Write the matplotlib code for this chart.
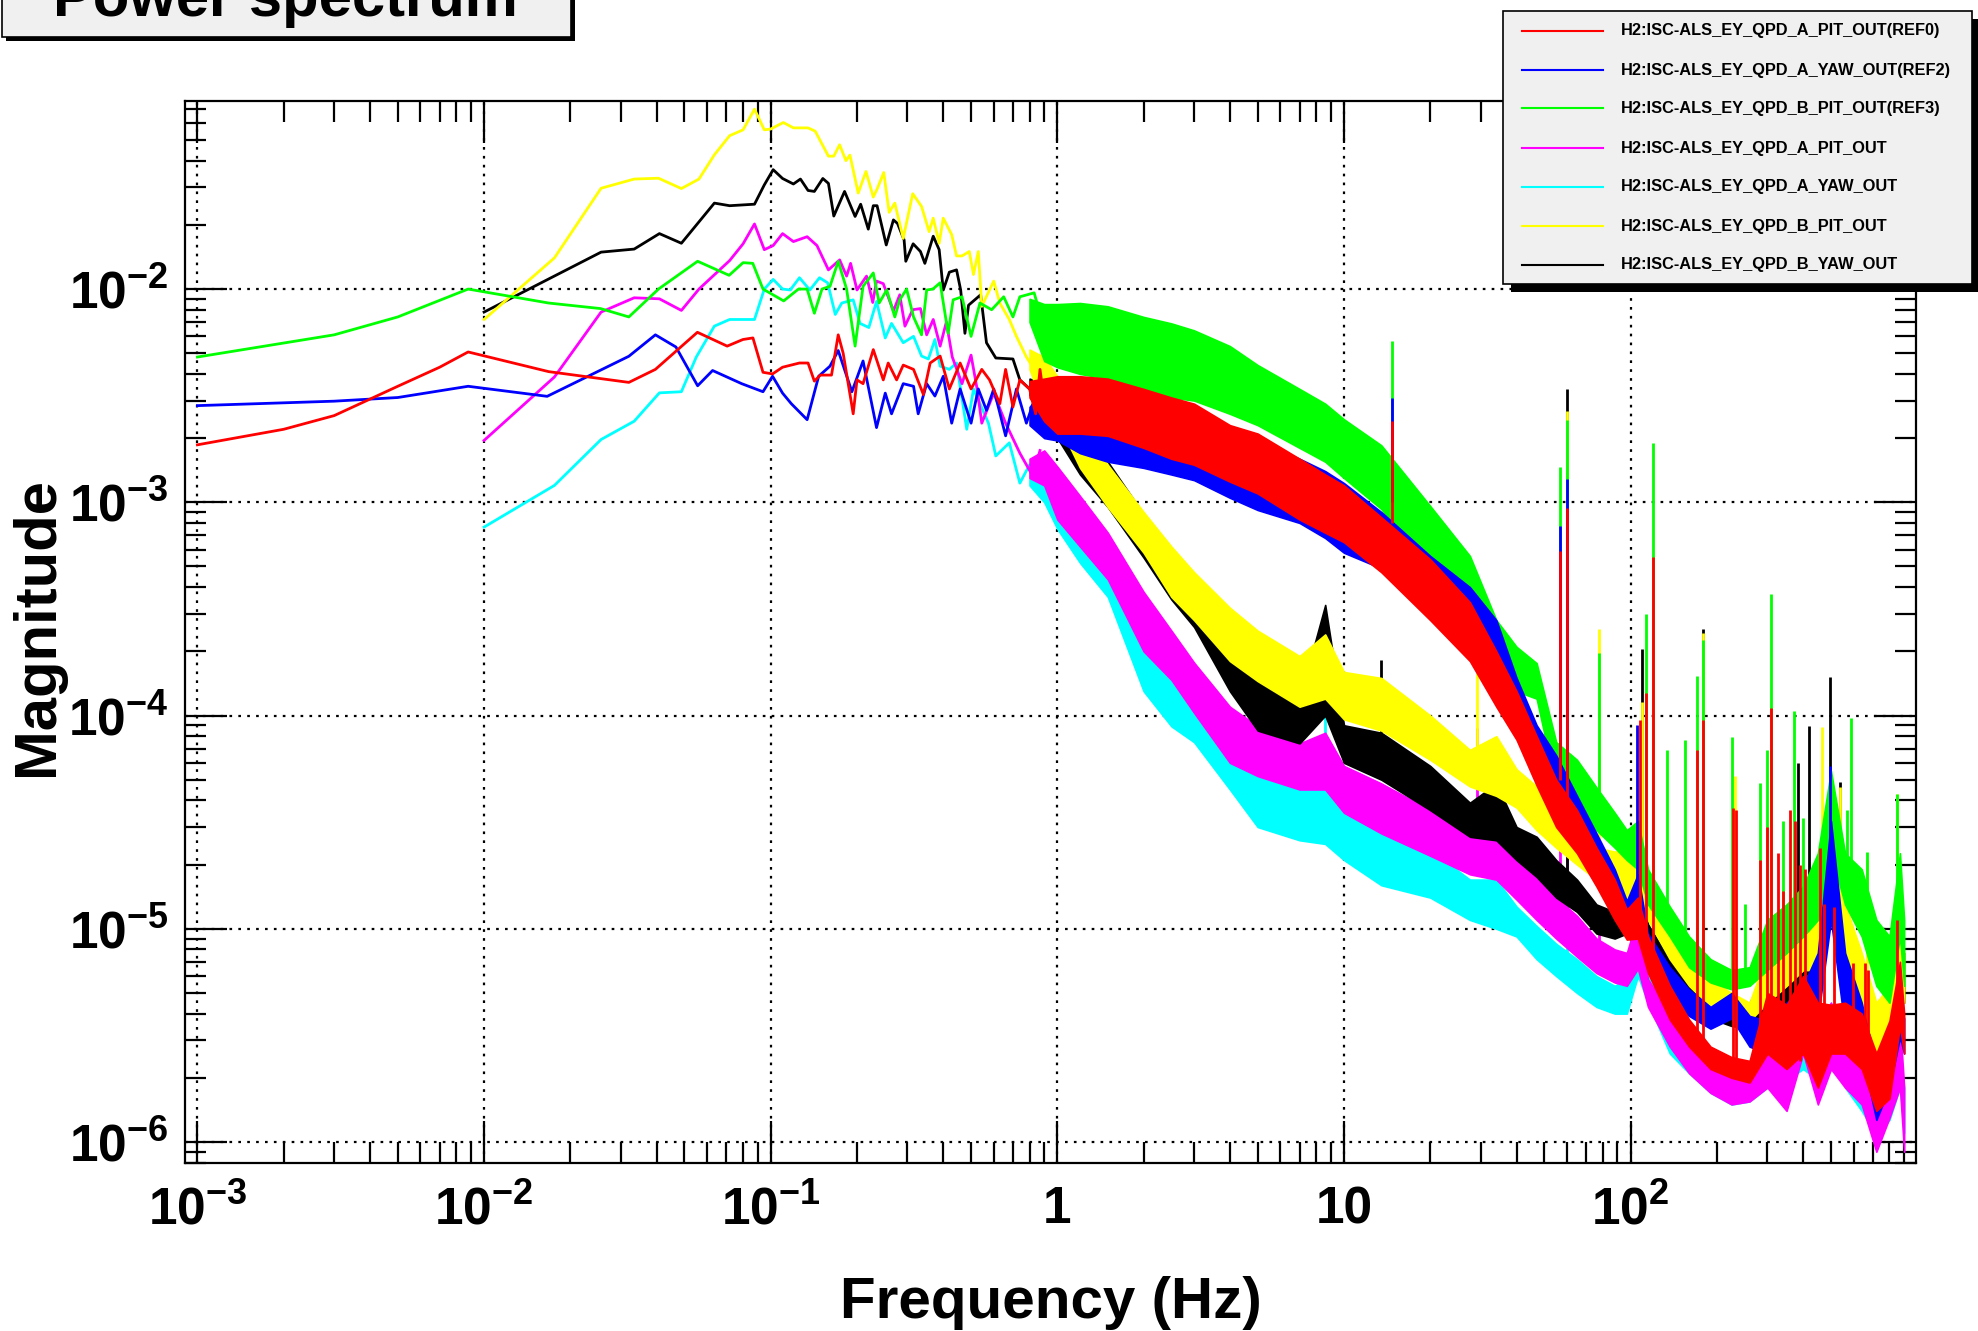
import numpy as np
import matplotlib
matplotlib.use("Agg")
import matplotlib.pyplot as plt
from matplotlib.patches import Rectangle
from matplotlib.lines import Line2D
from matplotlib.ticker import LogLocator, FixedLocator, NullFormatter

plt.rcParams['font.family'] = ['Liberation Sans', 'DejaVu Sans']
plt.rcParams['font.weight'] = 'bold'
plt.rcParams['mathtext.fontset'] = 'custom'
plt.rcParams['mathtext.rm'] = 'Liberation Sans:bold'
plt.rcParams['mathtext.it'] = 'Liberation Sans:bold'
plt.rcParams['mathtext.bf'] = 'Liberation Sans:bold'

labels = ['H2:ISC-ALS_EY_QPD_A_PIT_OUT(REF0)', 'H2:ISC-ALS_EY_QPD_A_YAW_OUT(REF2)',
          'H2:ISC-ALS_EY_QPD_B_PIT_OUT(REF3)', 'H2:ISC-ALS_EY_QPD_A_PIT_OUT',
          'H2:ISC-ALS_EY_QPD_A_YAW_OUT', 'H2:ISC-ALS_EY_QPD_B_PIT_OUT',
          'H2:ISC-ALS_EY_QPD_B_YAW_OUT']
colors = ['#ff0000', '#0000ff', '#00ff00', '#ff00ff', '#00ffff', '#ffff00', '#000000']

# ---- low frequency part (single visible trace) ----
red_f = [0.001, 0.002, 0.003, 0.005, 0.007, 0.0088, 0.0168, 0.032, 0.0396, 0.0555, 0.0705, 0.080, 0.0867,
         0.094, 0.1015, 0.11, 0.126, 0.135, 0.142, 0.149, 0.163, 0.172, 0.179, 0.194, 0.2, 0.21, 0.228,
         0.247, 0.257, 0.275, 0.29, 0.315, 0.341, 0.36, 0.39, 0.42, 0.458, 0.5, 0.545, 0.58, 0.63, 0.66,
         0.7, 0.74, 0.8, 0.84, 0.87, 0.9]
red_v = [1.86e-3, 2.2e-3, 2.55e-3, 3.5e-3, 4.3e-3, 5.07e-3, 4.1e-3, 3.65e-3, 4.2e-3, 6.27e-3, 5.4e-3, 5.8e-3, 5.9e-3,
         4.07e-3, 4.0e-3, 4.3e-3, 4.5e-3, 4.5e-3, 3.7e-3, 3.95e-3, 3.95e-3, 6.1e-3, 5.0e-3, 2.6e-3, 3.75e-3, 3.6e-3, 5.2e-3,
         3.75e-3, 4.5e-3, 3.75e-3, 4.4e-3, 4.2e-3, 3.2e-3, 4.5e-3, 4.85e-3, 3.4e-3, 4.5e-3, 3.4e-3, 4.2e-3, 3.75e-3, 2.9e-3, 4.2e-3,
         2.8e-3, 3.75e-3, 3.4e-3, 2.6e-3, 4.2e-3, 3.0e-3]

blue_f = [0.001, 0.003, 0.005, 0.0088, 0.0166, 0.032, 0.0396, 0.0467, 0.0556, 0.0627, 0.0792, 0.094, 0.1015,
          0.11, 0.118, 0.134, 0.147, 0.161, 0.172, 0.192, 0.21, 0.234, 0.251, 0.264, 0.29, 0.315, 0.327,
          0.35, 0.374, 0.4, 0.428, 0.458, 0.5, 0.53, 0.566, 0.6, 0.66, 0.72, 0.78, 0.84, 0.9]
blue_v = [2.84e-3, 2.98e-3, 3.1e-3, 3.5e-3, 3.14e-3, 4.84e-3, 6.1e-3, 5.35e-3, 3.52e-3, 4.15e-3, 3.6e-3, 3.3e-3, 3.9e-3,
          3.25e-3, 2.9e-3, 2.44e-3, 3.9e-3, 4.35e-3, 5.15e-3, 3.3e-3, 4.6e-3, 2.24e-3, 3.25e-3, 2.6e-3, 3.6e-3, 3.5e-3, 2.6e-3,
          3.6e-3, 3.15e-3, 3.9e-3, 2.35e-3, 3.4e-3, 2.35e-3, 3.4e-3, 2.7e-3, 3.4e-3, 2.05e-3, 3.4e-3, 2.35e-3, 3.15e-3, 2.6e-3]

green_f = [0.001, 0.003, 0.005, 0.0088, 0.0168, 0.0255, 0.032, 0.0406, 0.0556, 0.0716, 0.0801, 0.0866, 0.094,
           0.111, 0.125, 0.134, 0.142, 0.151, 0.161, 0.172, 0.184, 0.197, 0.21, 0.228, 0.239, 0.254, 0.271,
           0.282, 0.298, 0.315, 0.336, 0.35, 0.368, 0.39, 0.416, 0.433, 0.465, 0.5, 0.537, 0.59, 0.65, 0.7,
           0.74, 0.83, 0.89]
green_v = [4.8e-3, 6.1e-3, 7.4e-3, 1.0e-2, 8.6e-3, 8.1e-3, 7.4e-3, 1.0e-2, 1.35e-2, 1.16e-2, 1.33e-2, 1.32e-2, 1.0e-2,
           8.8e-3, 1.0e-2, 1.0e-2, 7.7e-3, 1.0e-2, 1.03e-2, 1.35e-2, 1.0e-2, 5.4e-3, 1.03e-2, 1.19e-2, 8.6e-3, 9.9e-3, 7.4e-3,
           8.9e-3, 1.0e-2, 7.4e-3, 6.1e-3, 9.9e-3, 1.0e-2, 1.07e-2, 6.2e-3, 8.9e-3, 9.2e-3, 6.0e-3, 8.6e-3, 8.0e-3, 9.2e-3, 7.4e-3,
           9.2e-3, 9.6e-3, 6.9e-3]

magenta_f = [0.01, 0.0176, 0.0256, 0.0334, 0.0409, 0.0488, 0.0562, 0.0719, 0.0801, 0.0878, 0.095, 0.102, 0.11,
             0.12, 0.134, 0.145, 0.159, 0.174, 0.184, 0.19, 0.2, 0.216, 0.227, 0.234, 0.247, 0.268, 0.282,
             0.294, 0.313, 0.333, 0.35, 0.369, 0.39, 0.41, 0.43, 0.465, 0.5, 0.525, 0.545, 0.6, 0.66, 0.74,
             0.82, 0.87]
magenta_v = [1.95e-3, 3.87e-3, 7.8e-3, 9.1e-3, 9.0e-3, 7.94e-3, 1.0e-2, 1.36e-2, 1.63e-2, 2.02e-2, 1.53e-2, 1.6e-2, 1.82e-2,
             1.67e-2, 1.76e-2, 1.6e-2, 1.23e-2, 1.37e-2, 1.15e-2, 1.32e-2, 9.9e-3, 1.15e-2, 8.65e-3, 1.09e-2, 1.06e-2, 7.9e-3, 9.4e-3,
             6.7e-3, 8.0e-3, 8.1e-3, 6.1e-3, 7.2e-3, 5.4e-3, 7.0e-3, 4.8e-3, 3.6e-3, 4.9e-3, 3.4e-3, 2.35e-3, 3.25e-3, 2.35e-3, 1.7e-3,
             1.33e-3, 1.75e-3]

cyan_f = [0.01, 0.0176, 0.0256, 0.0334, 0.0409, 0.0488, 0.055, 0.0636, 0.0719, 0.0878, 0.095, 0.102, 0.11,
          0.117, 0.126, 0.137, 0.148, 0.158, 0.168, 0.177, 0.194, 0.205, 0.22, 0.234, 0.251, 0.264, 0.29,
          0.315, 0.336, 0.355, 0.374, 0.39, 0.42, 0.445, 0.483, 0.51, 0.575, 0.61, 0.68, 0.74, 0.8, 0.87]
cyan_v = [7.65e-4, 1.2e-3, 1.97e-3, 2.4e-3, 3.26e-3, 3.3e-3, 4.8e-3, 6.7e-3, 7.2e-3, 7.2e-3, 1.0e-2, 1.11e-2, 1.0e-2,
          9.9e-3, 1.13e-2, 9.9e-3, 1.13e-2, 1.07e-2, 7.6e-3, 8.6e-3, 8.9e-3, 6.9e-3, 6.6e-3, 8.75e-3, 5.9e-3, 6.9e-3, 5.6e-3,
          6.0e-3, 4.85e-3, 4.7e-3, 5.8e-3, 4.35e-3, 4.2e-3, 4.5e-3, 2.2e-3, 3.4e-3, 2.35e-3, 1.65e-3, 1.9e-3, 1.23e-3, 1.5e-3, 1.2e-3]

yellow_f = [0.01, 0.0176, 0.0256, 0.0334, 0.0406, 0.0488, 0.0562, 0.0636, 0.0719, 0.0801, 0.0878, 0.095, 0.1,
            0.1107, 0.12, 0.135, 0.143, 0.159, 0.166, 0.174, 0.183, 0.189, 0.202, 0.215, 0.228, 0.235, 0.248,
            0.259, 0.271, 0.29, 0.313, 0.336, 0.357, 0.369, 0.387, 0.4, 0.428, 0.445, 0.465, 0.493, 0.51, 0.53,
            0.545, 0.6, 0.63, 0.68, 0.72, 0.78, 0.87]
yellow_v = [7.2e-3, 1.4e-2, 2.97e-2, 3.28e-2, 3.31e-2, 2.96e-2, 3.28e-2, 4.26e-2, 5.24e-2, 5.58e-2, 6.98e-2, 5.58e-2, 5.63e-2,
            6.04e-2, 5.7e-2, 5.7e-2, 5.5e-2, 4.2e-2, 4.2e-2, 4.75e-2, 4.0e-2, 4.25e-2, 2.82e-2, 3.56e-2, 2.7e-2, 2.94e-2, 3.52e-2,
            2.29e-2, 2.53e-2, 1.73e-2, 2.8e-2, 2.44e-2, 1.86e-2, 2.15e-2, 1.64e-2, 2.15e-2, 1.8e-2, 1.43e-2, 1.43e-2, 1.5e-2, 1.17e-2, 1.5e-2,
            8.3e-3, 1.09e-2, 8.6e-3, 7.2e-3, 6.0e-3, 4.8e-3, 3.8e-3]

black_f = [0.01, 0.0256, 0.0334, 0.0409, 0.0488, 0.0636, 0.0719, 0.0878, 0.095, 0.102, 0.11, 0.12, 0.127,
           0.135, 0.142, 0.152, 0.159, 0.166, 0.181, 0.197, 0.206, 0.219, 0.228, 0.235, 0.253, 0.268, 0.277,
           0.292, 0.296, 0.314, 0.333, 0.345, 0.369, 0.387, 0.4, 0.42, 0.445, 0.46, 0.476, 0.49, 0.54, 0.566,
           0.61, 0.7, 0.74, 0.8, 0.87]
black_v = [7.8e-3, 1.49e-2, 1.54e-2, 1.82e-2, 1.64e-2, 2.53e-2, 2.46e-2, 2.5e-2, 3.08e-2, 3.63e-2, 3.3e-2, 3.11e-2, 3.28e-2,
           2.9e-2, 2.87e-2, 3.3e-2, 3.13e-2, 2.2e-2, 2.87e-2, 2.19e-2, 2.5e-2, 1.91e-2, 2.46e-2, 2.46e-2, 1.61e-2, 2.11e-2, 2.03e-2,
           1.7e-2, 1.35e-2, 1.63e-2, 1.5e-2, 1.32e-2, 1.77e-2, 1.53e-2, 9.9e-3, 1.2e-2, 1.23e-2, 9.9e-3, 6.2e-3, 8.4e-3, 9.4e-3, 5.6e-3,
           4.75e-3, 4.7e-3, 3.75e-3, 3.4e-3, 3.9e-3]

# ---- dense part: upper / lower edge of the noise band ----
band_f = [0.8, 0.9, 1.0, 1.2, 1.5, 2, 2.5, 3, 4, 5, 7, 8.6, 10, 13.5, 20, 27.5, 34, 40, 47, 55, 65,
          76, 88, 97, 106, 115, 137, 160, 190, 225, 260, 300, 350, 400, 450, 500, 560, 640, 720, 800, 870, 900]

red_hi = [3.7e-3,
          3.8e-3, 3.9e-3, 3.9e-3, 3.8e-3, 3.4e-3, 3.1e-3, 2.9e-3, 2.3e-3, 2.1e-3, 1.6e-3, 1.35e-3, 1.2e-3, 8.5e-4, 5.4e-4,
          3.4e-4, 2.0e-4, 1.3e-4, 8.0e-5, 5.0e-5, 3.6e-5, 2.4e-5, 1.7e-5, 1.23e-5, 1.4e-5, 9.2e-6, 5.4e-6, 3.75e-6, 2.8e-6,
          2.5e-6, 2.4e-6, 5.0e-6, 4.4e-6, 6.0e-6, 4.5e-6, 4.4e-6, 4.5e-6, 4.0e-6, 2.6e-6, 3.7e-6, 7.0e-6, 4.0e-6]
red_lo = [3.1e-3,
          2.4e-3, 2.1e-3, 2.1e-3, 2.05e-3, 1.8e-3, 1.6e-3, 1.5e-3, 1.25e-3, 1.1e-3, 8.3e-4, 7.2e-4, 6.5e-4, 4.7e-4, 2.8e-4,
          1.8e-4, 1.1e-4, 7.7e-5, 4.7e-5, 3.0e-5, 2.26e-5, 1.58e-5, 1.1e-5, 8.9e-6, 9.0e-6, 6.2e-6, 3.75e-6, 2.8e-6, 2.2e-6,
          2.0e-6, 1.9e-6, 2.6e-6, 2.2e-6, 2.6e-6, 1.8e-6, 2.6e-6, 2.6e-6, 2.2e-6, 1.4e-6, 1.6e-6, 3.5e-6, 2.6e-6]

blue_hi = [2.8e-3,
           3.4e-3, 3.1e-3, 3.0e-3, 2.9e-3, 2.8e-3, 2.6e-3, 2.45e-3, 2.15e-3, 1.95e-3, 1.6e-3, 1.4e-3, 1.23e-3, 9.0e-4, 5.6e-4,
           4.0e-4, 2.8e-4, 1.5e-4, 9.0e-5, 6.5e-5, 4.2e-5, 2.8e-5, 1.9e-5, 1.35e-5, 1.8e-5, 9.5e-6, 6.6e-6, 5.2e-6, 4.3e-6,
           5.0e-6, 3.9e-6, 3.7e-6, 4.5e-6, 5.4e-6, 7.7e-6, 3.2e-5, 7.7e-6, 4.5e-6, 2.2e-6, 3.2e-6, 4.5e-6, 3.8e-6]
blue_lo = [2.3e-3,
           2.0e-3, 1.95e-3, 1.7e-3, 1.55e-3, 1.45e-3, 1.35e-3, 1.27e-3, 1.05e-3, 9.2e-4, 8.0e-4, 6.8e-4, 5.8e-4, 4.9e-4, 3.4e-4,
           2.4e-4, 1.6e-4, 9.0e-5, 5.6e-5, 3.8e-5, 2.6e-5, 1.8e-5, 1.25e-5, 1.05e-5, 1.2e-5, 7.2e-6, 4.6e-6, 3.9e-6, 3.4e-6,
           3.8e-6, 2.8e-6, 2.6e-6, 2.6e-6, 3.1e-6, 3.8e-6, 1.1e-5, 3.4e-6, 2.6e-6, 1.27e-6, 1.8e-6, 3.1e-6, 2.6e-6]

green_hi = [9.0e-3,
            8.5e-3, 8.5e-3, 8.6e-3, 8.3e-3, 7.4e-3, 6.9e-3, 6.4e-3, 5.4e-3, 4.4e-3, 3.4e-3, 2.9e-3, 2.45e-3, 1.85e-3, 9.6e-4,
            5.6e-4, 2.8e-4, 2.1e-4, 1.76e-4, 7.5e-5, 6.2e-5, 4.6e-5, 3.5e-5, 2.9e-5, 3.2e-5, 1.9e-5, 1.27e-5, 9.2e-6, 7.2e-6,
            6.4e-6, 6.6e-6, 1.1e-5, 1.3e-5, 1.58e-5, 2.26e-5, 5.5e-5, 2.26e-5, 1.9e-5, 1.1e-5, 9.2e-6, 2.26e-5, 1.1e-5]
green_lo = [7.0e-3,
            4.6e-3, 4.3e-3, 4.0e-3, 3.8e-3, 3.3e-3, 3.1e-3, 3.0e-3, 2.6e-3, 2.3e-3, 1.8e-3, 1.55e-3, 1.3e-3, 9.3e-4, 4.7e-4,
            3.0e-4, 1.7e-4, 1.3e-4, 1.2e-4, 4.6e-5, 3.9e-5, 2.9e-5, 2.4e-5, 2.1e-5, 1.9e-5, 1.3e-5, 9.2e-6, 6.6e-6, 5.6e-6,
            5.2e-6, 5.4e-6, 6.4e-6, 7.7e-6, 9.2e-6, 1.1e-5, 2.26e-5, 1.3e-5, 9.2e-6, 5.4e-6, 4.5e-6, 9.2e-6, 5.4e-6]

magenta_hi = [1.6e-3,
              1.75e-3, 1.47e-3, 1.07e-3, 7.2e-4, 3.8e-4, 2.5e-4, 1.77e-4, 1.1e-4, 8.9e-5, 7.4e-5, 8.3e-5, 5.8e-5, 4.8e-5, 3.6e-5,
              2.7e-5, 3.2e-5, 2.1e-5, 1.75e-5, 1.4e-5, 1.15e-5, 9.0e-6, 8.0e-6, 7.7e-6, 1.15e-5, 5.8e-6, 4.0e-6, 3.1e-6, 2.35e-6,
              2.1e-6, 2.2e-6, 3.1e-6, 3.1e-6, 3.9e-6, 3.7e-6, 4.5e-6, 3.1e-6, 2.6e-6, 1.5e-6, 2.2e-6, 3.7e-6, 1.8e-6]
magenta_lo = [1.3e-3,
              1.2e-3, 8.3e-4, 6.2e-4, 4.35e-4, 2.0e-4, 1.47e-4, 1.03e-4, 6.0e-5, 5.2e-5, 4.5e-5, 4.5e-5, 3.5e-5, 2.8e-5, 2.2e-5,
              1.8e-5, 1.7e-5, 1.37e-5, 1.1e-5, 9.0e-6, 7.4e-6, 6.2e-6, 5.6e-6, 5.4e-6, 6.5e-6, 4.3e-6, 2.8e-6, 2.1e-6, 1.7e-6,
              1.5e-6, 1.55e-6, 1.8e-6, 1.4e-6, 2.6e-6, 1.5e-6, 2.2e-6, 1.8e-6, 1.5e-6, 9.0e-7, 1.3e-6, 1.8e-6, 9.0e-7]

cyan_hi = [1.5e-3,
           1.55e-3, 1.3e-3, 8.9e-4, 6.2e-4, 2.6e-4, 1.77e-4, 1.2e-4, 7.0e-5, 5.4e-5, 4.5e-5, 4.5e-5, 3.6e-5, 3.0e-5, 2.35e-5,
           1.7e-5, 1.7e-5, 1.27e-5, 1.03e-5, 8.5e-6, 7.2e-6, 6.0e-6, 5.4e-6, 5.8e-6, 1.2e-5, 6.0e-6, 3.75e-6, 2.8e-6, 2.2e-6,
           2.0e-6, 2.0e-6, 2.6e-6, 2.8e-6, 3.1e-6, 2.8e-6, 4.5e-6, 2.6e-6, 2.0e-6, 1.5e-6, 1.7e-6, 2.6e-6, 1.8e-6]
cyan_lo = [1.2e-3,
           1.0e-3, 7.5e-4, 5.2e-4, 3.6e-4, 1.3e-4, 8.9e-5, 7.5e-5, 4.5e-5, 3.0e-5, 2.6e-5, 2.5e-5, 2.1e-5, 1.6e-5, 1.4e-5,
           1.1e-5, 1.0e-5, 9.2e-6, 7.2e-6, 6.0e-6, 5.0e-6, 4.3e-6, 4.0e-6, 4.0e-6, 6.0e-6, 4.5e-6, 2.6e-6, 2.1e-6, 1.7e-6,
           1.5e-6, 1.55e-6, 1.8e-6, 1.95e-6, 2.2e-6, 1.95e-6, 2.6e-6, 1.8e-6, 1.4e-6, 1.07e-6, 1.27e-6, 1.8e-6, 1.1e-6]

yellow_hi = [5.2e-3,
             4.8e-3, 3.9e-3, 2.45e-3, 1.5e-3, 9.0e-4, 6.2e-4, 4.7e-4, 3.2e-4, 2.5e-4, 1.9e-4, 2.4e-4, 1.6e-4, 1.5e-4, 1.0e-4,
             6.9e-5, 8.0e-5, 5.6e-5, 4.65e-5, 3.7e-5, 3.0e-5, 2.4e-5, 2.3e-5, 2.3e-5, 2.8e-5, 1.58e-5, 1.0e-5, 7.7e-6, 5.8e-6,
             5.0e-6, 4.5e-6, 7.7e-6, 9.2e-6, 1.1e-5, 1.3e-5, 2.26e-5, 1.3e-5, 7.7e-6, 4.5e-6, 5.4e-6, 1.1e-5, 7.7e-6]
yellow_lo = [4.2e-3,
             2.7e-3, 2.4e-3, 1.45e-3, 9.5e-4, 5.8e-4, 3.6e-4, 2.8e-4, 1.8e-4, 1.45e-4, 1.1e-4, 1.2e-4, 9.6e-5, 8.5e-5, 6.2e-5,
             4.65e-5, 4.2e-5, 3.7e-5, 2.9e-5, 2.4e-5, 2.0e-5, 1.7e-5, 1.5e-5, 1.4e-5, 1.6e-5, 1.1e-5, 7.2e-6, 5.4e-6, 4.3e-6,
             4.0e-6, 3.7e-6, 4.5e-6, 5.4e-6, 6.4e-6, 6.4e-6, 1.1e-5, 6.4e-6, 4.5e-6, 2.6e-6, 3.1e-6, 6.4e-6, 4.5e-6]

black_hi = [3.8e-3,
            3.6e-3, 3.3e-3, 2.3e-3, 1.55e-3, 8.8e-4, 6.0e-4, 4.5e-4, 2.3e-4, 1.5e-4, 1.2e-4, 3.3e-4, 9.0e-5, 8.3e-5, 5.8e-5,
            3.9e-5, 4.8e-5, 3.0e-5, 2.7e-5, 2.1e-5, 1.7e-5, 1.3e-5, 1.2e-5, 1.27e-5, 1.6e-5, 1.05e-5, 7.1e-6, 5.8e-6, 5.0e-6,
            4.5e-6, 4.5e-6, 6.6e-6, 7.7e-6, 9.2e-6, 1.58e-5, 3.2e-5, 1.1e-5, 5.4e-6, 3.1e-6, 4.5e-6, 7.7e-6, 7.7e-6]
black_lo = [3.2e-3,
            2.1e-3, 2.0e-3, 1.35e-3, 9.5e-4, 5.5e-4, 3.5e-4, 2.6e-4, 1.3e-4, 8.5e-5, 7.4e-5, 1.0e-4, 6.0e-5, 5.0e-5, 3.6e-5,
            2.7e-5, 2.6e-5, 2.1e-5, 1.75e-5, 1.4e-5, 1.2e-5, 9.5e-6, 9.0e-6, 9.5e-6, 1.0e-5, 7.2e-6, 5.0e-6, 4.0e-6, 3.8e-6,
            3.5e-6, 3.4e-6, 3.8e-6, 4.5e-6, 5.4e-6, 9.2e-6, 1.58e-5, 5.4e-6, 3.1e-6, 1.8e-6, 2.6e-6, 4.5e-6, 4.5e-6]

# ---- narrow lines: frequency, bottom, top ----
red_spk_f = [14.7, 56.7, 60, 108, 113, 119.3, 170, 179, 228, 234, 282, 298, 309, 328, 341, 360, 374, 390, 406,
             457, 473, 511, 598, 656, 673, 847]
red_spk_lo = [8e-4, 5e-5, 4e-5, 1e-5, 8e-6, 7e-6, 3e-6, 3e-6, 2.2e-6, 2.2e-6, 2.4e-6, 2.6e-6, 3e-6, 2.6e-6, 2.4e-6,
              3e-6, 2.6e-6, 2.4e-6, 2.6e-6, 3e-6, 2.6e-6, 2.8e-6, 2.6e-6, 2.4e-6, 2.2e-6, 4e-6]
red_spk_hi = [2.4e-3, 5.9e-4, 9.4e-4, 9.5e-5, 1.27e-4, 5.55e-4, 6.9e-5, 9.5e-5, 3.7e-5, 3.6e-5, 2.1e-5, 3.0e-5, 1.09e-4,
              2.26e-5, 1.5e-5, 3.6e-5, 3.2e-5, 2.0e-5, 1.9e-5, 2.4e-5, 1.3e-5, 1.27e-5, 6.9e-6, 6.9e-6, 6.4e-6, 1.1e-5]

blue_spk_f = [14.7, 56.7, 60, 105, 495]
blue_spk_lo = [1e-3, 6e-5, 5e-5, 1.3e-5, 1.5e-5]
blue_spk_hi = [3.1e-3, 7.7e-4, 1.28e-3, 9e-5, 5.8e-5]

green_spk_f = [14.7, 56.7, 60, 77.7, 113, 119.3, 134, 155, 170, 179, 225, 250, 282, 298, 308, 341, 371, 400,
               567, 588, 667, 850]
green_spk_lo = [1.5e-3, 1e-4, 8e-5, 3.5e-5, 1.6e-5, 1.5e-5, 1.1e-5, 9e-6, 8e-6, 7e-6, 6e-6, 6e-6, 6e-6, 7e-6, 7e-6,
                8e-6, 9e-6, 1e-5, 1.4e-5, 1.5e-5, 1.2e-5, 1e-5]
green_spk_hi = [5.7e-3, 1.47e-3, 2.43e-3, 1.96e-4, 2.98e-4, 1.9e-3, 6.9e-5, 7.7e-5, 1.53e-4, 2.26e-4, 7.9e-5, 1.3e-5,
                4.8e-5, 6.9e-5, 3.7e-4, 3.2e-5, 1.05e-4, 3.3e-5, 3.6e-5, 9.7e-5, 2.3e-5, 4.3e-5]

magenta_spk_f = [29.2, 56.7, 60, 77.7]
magenta_spk_lo = [2e-5, 1.2e-5, 1.2e-5, 7e-6]
magenta_spk_hi = [8.7e-5, 1.1e-4, 1.0e-4, 1.2e-5]

cyan_spk_f = [8.6, 60]
cyan_spk_lo = [3e-5, 6e-6]
cyan_spk_hi = [1.0e-4, 3e-5]

yellow_spk_f = [29.2, 60, 77.7, 110, 179, 231, 464, 537, 667, 850]
yellow_spk_lo = [5e-5, 3e-5, 2e-5, 1.2e-5, 5e-6, 4.5e-6, 8e-6, 8e-6, 6e-6, 7e-6]
yellow_spk_hi = [1.6e-4, 2.69e-3, 2.54e-4, 1.16e-4, 2.43e-4, 5.2e-5, 8.8e-5, 4.6e-5, 2.1e-5, 4.3e-5]

black_spk_f = [13.5, 60, 110, 179, 384, 420, 495, 537]
black_spk_lo = [6e-5, 1.5e-5, 9e-6, 4e-6, 5e-6, 6e-6, 1.6e-5, 8e-6]
black_spk_hi = [1.83e-4, 3.39e-3, 2.05e-4, 2.54e-4, 6.0e-5, 8.9e-5, 1.51e-4, 4.9e-5]

traces = [
    (red_f, red_v, red_hi, red_lo, red_spk_f, red_spk_lo, red_spk_hi),
    (blue_f, blue_v, blue_hi, blue_lo, blue_spk_f, blue_spk_lo, blue_spk_hi),
    (green_f, green_v, green_hi, green_lo, green_spk_f, green_spk_lo, green_spk_hi),
    (magenta_f, magenta_v, magenta_hi, magenta_lo, magenta_spk_f, magenta_spk_lo, magenta_spk_hi),
    (cyan_f, cyan_v, cyan_hi, cyan_lo, cyan_spk_f, cyan_spk_lo, cyan_spk_hi),
    (yellow_f, yellow_v, yellow_hi, yellow_lo, yellow_spk_f, yellow_spk_lo, yellow_spk_hi),
    (black_f, black_v, black_hi, black_lo, black_spk_f, black_spk_lo, black_spk_hi),
]
zorders = [8, 7, 6, 3, 2, 5, 4]

W, H = 1978, 1331
fig = plt.figure(figsize=(W / 100, H / 100), dpi=100)
ax = fig.add_axes([185 / W, 1 - 1163 / H, (1916 - 185) / W, (1163 - 101) / H])

for (f, v, hi, lo, sf, slo, shi), c, z in zip(traces, colors, zorders):
    ax.plot(f, v, color=c, lw=2.0, zorder=z)
    ax.fill_between(band_f, lo, hi, color=c, lw=1.2, zorder=z)
    ax.vlines(sf, slo, shi, color=c, lw=2.0, zorder=z)

ax.set_xscale('log')
ax.set_yscale('log')
ax.set_xlim(9.05e-4, 990)
ax.set_ylim(7.97e-7, 0.0762)

ax.xaxis.set_major_locator(FixedLocator([1e-3, 1e-2, 1e-1, 1, 10, 100]))
ax.set_xticklabels([r'$10^{-3}$', r'$10^{-2}$', r'$10^{-1}$', '1', '10', r'$10^{2}$'])
ax.yaxis.set_major_locator(FixedLocator([1e-6, 1e-5, 1e-4, 1e-3, 1e-2]))
ax.set_yticklabels([r'$10^{-6}$', r'$10^{-5}$', r'$10^{-4}$', r'$10^{-3}$', r'$10^{-2}$'])
for a in (ax.xaxis, ax.yaxis):
    a.set_minor_locator(LogLocator(base=10, subs=np.arange(2, 10), numticks=100))
    a.set_minor_formatter(NullFormatter())

ax.tick_params(which='both', direction='in', top=True, right=True, width=1.6, color='black')
ax.tick_params(which='major', length=30, labelsize=37)
ax.tick_params(which='minor', length=15)
ax.tick_params(axis='x', which='major', pad=16)
ax.tick_params(axis='y', which='major', pad=12)
for sp in ax.spines.values():
    sp.set_linewidth(1.6)

ax.grid(which='major', color='black', linestyle=(0, (1.2, 2.8)), lw=1.6)
ax.set_axisbelow(True)

fig.text(1050.5 / W, 1 - 1318 / H, 'Frequency (Hz)', fontsize=42, fontweight='bold',
         ha='center', va='baseline')
fig.text(38 / W, 1 - 627 / H, 'Magnitude', fontsize=43, fontweight='bold',
         ha='center', va='center', rotation=90)

# title box (cut by the top edge, as in the original canvas)
fig.patches.append(Rectangle((6 / W, 1 - 41 / H), 569 / W, 60 / H, transform=fig.transFigure,
                             facecolor='black', edgecolor='none', zorder=1))
fig.patches.append(Rectangle((2 / W, 1 - 37 / H), 569 / W, 60 / H, transform=fig.transFigure,
                             facecolor='#f0f0f0', edgecolor='black', lw=1.2, zorder=2))
fig.text(285.5 / W, 1 - 16 / H, 'Power spectrum', fontsize=43, fontweight='bold',
         ha='center', va='baseline', zorder=3)

# legend box
fig.patches.append(Rectangle((1511 / W, 1 - 292 / H), 480 / W, 273 / H, transform=fig.transFigure,
                             facecolor='black', edgecolor='none', zorder=1))
fig.patches.append(Rectangle((1503 / W, 1 - 284 / H), 469 / W, 273 / H, transform=fig.transFigure,
                             facecolor='#f0f0f0', edgecolor='black', lw=1.2, zorder=2))
rows = [31, 70, 108, 148, 187, 226, 265]
for lab, c, yy in zip(labels, colors, rows):
    fig.lines.append(Line2D([1522 / W, 1603 / W], [1 - yy / H, 1 - yy / H], transform=fig.transFigure,
                            color=c, lw=1.5, zorder=3))
    fig.text(1621 / W, 1 - yy / H, lab, fontsize=11.8, fontweight='bold', ha='left', va='center', zorder=3)

fig.savefig('out.png', dpi=100)
